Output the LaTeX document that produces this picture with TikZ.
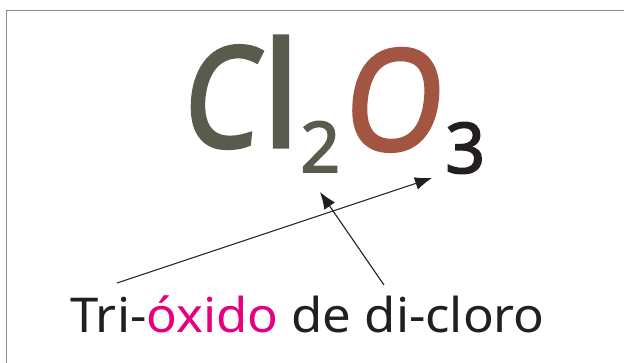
\documentclass[tikz,border=0pt]{standalone}
\usepackage{fontspec}
\setmainfont{Noto Sans}
\newfontfamily\bigfont[FakeBold=2.2]{Noto Sans}
\newfontfamily\bigslant[FakeBold=2.4,FakeSlant=0.12]{Noto Sans}
\newfontfamily\namefont[FakeStretch=1.06]{Noto Sans}
\usetikzlibrary{arrows.meta}
\definecolor{clgray}{HTML}{5A5A4D}
\definecolor{oxred}{HTML}{A25642}
\definecolor{ink}{HTML}{231F20}
\definecolor{mag}{HTML}{E6007E}
\definecolor{frame}{HTML}{8C8C8C}
\tikzset{
  glyph/.style={inner sep=0pt, anchor=base west},
  pointer/.style={draw=ink, line width=1.1pt, -{Latex[length=17pt,width=13pt]}}
}
\begin{document}
\begin{tikzpicture}[x=1pt,y=-1pt]
\useasboundingbox (0,0) rectangle (624,363);
\fill[white] (0,0) rectangle (624,363);
\draw[frame, line width=1.6pt] (6.5,363) -- (6.5,10.5) -- (624,10.5);
\node[glyph] (formula) at (180,147) {%
  \makebox[82pt][l]{\fontsize{140}{140}\bigslant\color{clgray}\scalebox{0.86}[1]{C}}%
  \makebox[38pt][l]{\fontsize{146}{146}\bigfont\color{clgray}l}%
  \makebox[41pt][l]{\raisebox{-25pt}{\fontsize{70}{70}\bigfont\color{clgray}2}}%
  \makebox[104pt][l]{\raisebox{-3pt}{\fontsize{140}{140}\bigslant\color{oxred}\scalebox{0.9}[1]{O}}}%
  \raisebox{-26pt}{\fontsize{70}{70}\bigfont\color{ink}3}};
\node[glyph, text=ink, font=\fontsize{48}{48}\namefont] (name) at (70,333) {Tri-\textcolor{mag}{óxido} de di-cloro};
\coordinate (s1) at (117,283);
\coordinate (s2) at (384,285);
\coordinate (t1) at (432,178);
\coordinate (t2) at (320,192);
\draw[pointer] (s1) -- (t1);
\draw[pointer] (s2) -- (t2);
\end{tikzpicture}
\end{document}
